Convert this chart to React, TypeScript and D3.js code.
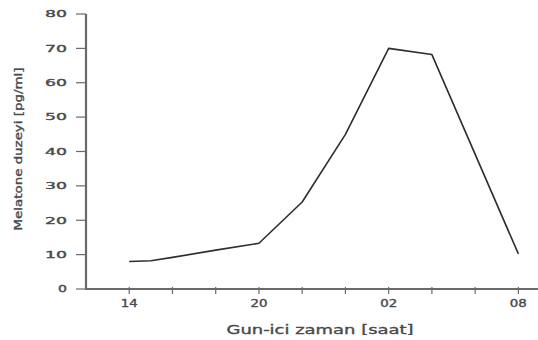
import React from "react";
import * as d3 from "d3";

const hours = [14, 15, 16, 18, 20, 22, 24, 26, 28, 32];
const values = [8, 8.2, 9.2, 11.3, 13.3, 25.3, 45, 70, 68.2, 10.2];
const xTickHours = [14, 16, 18, 20, 22, 24, 26, 28, 30, 32];
const xLabelHours = [14, 20, 26, 32];
const xLabels = ["14", "20", "02", "08"];
const yTicks = [0, 10, 20, 30, 40, 50, 60, 70, 80];
const yTitle = "Melatone duzeyi [pg/ml]";
const xTitle = "Gun-ici zaman [saat]";

export default function App() {
  const W = 538, H = 340;
  const x = d3.scaleLinear().domain([12, 33]).range([86, 540]);
  const y = d3.scaleLinear().domain([0, 80]).range([289, 14]);
  const line = d3.line<number>().x((_, i) => x(hours[i])).y((v) => y(v));
  const font = "'DejaVu Sans', Verdana, sans-serif";
  const textCol = "#4a4a4a";
  const axisCol = "#6a6a6a";
  const textStroke = { stroke: textCol, strokeWidth: 0.35 };
  return (
    <svg width={W} height={H} style={{ position: "absolute", left: 0, top: 0, background: "#fff" }}>
      <rect width={W} height={H} fill="#fff" />
      {/* y axis */}
      <line x1={86} x2={86} y1={y(80)} y2={y(0) + 1} stroke={axisCol} strokeWidth={2.2} />
      {yTicks.map((t) => (
        <g key={t}>
          <line x1={76} x2={86} y1={y(t)} y2={y(t)} stroke={axisCol} strokeWidth={1.2} />
          <text
            x={67}
            y={y(t) + 3.3}
            textAnchor="end"
            fontFamily={font}
            fontSize={9}
            fill={textCol}
            {...textStroke}
            textLength={t === 0 ? 9 : 22}
            lengthAdjust="spacingAndGlyphs"
          >
            {t}
          </text>
        </g>
      ))}
      {/* x axis */}
      <line x1={85} x2={538} y1={y(0)} y2={y(0)} stroke={axisCol} strokeWidth={2.2} />
      {xTickHours.map((h) => (
        <line key={h} x1={x(h)} x2={x(h)} y1={y(0) - 2} y2={y(0) + 5} stroke={axisCol} strokeWidth={1.2} />
      ))}
      {xLabelHours.map((h, i) => (
        <text
          key={h}
          x={x(h)}
          y={307}
          textAnchor="middle"
          fontFamily={font}
          fontSize={10}
          fill={textCol}
          {...textStroke}
          textLength={17}
          lengthAdjust="spacingAndGlyphs"
        >
          {xLabels[i]}
        </text>
      ))}
      {/* data line */}
      <path d={line(values) || ""} fill="none" stroke="#2e2e2e" strokeWidth={1.6} strokeLinejoin="round" />
      {/* titles */}
      <text
        x={320}
        y={334}
        textAnchor="middle"
        fontFamily={font}
        fontSize={12}
        fill={textCol}
        {...textStroke}
        textLength={187}
        lengthAdjust="spacingAndGlyphs"
      >
        {xTitle}
      </text>
      <text
        transform="translate(22,149) rotate(-90)"
        textAnchor="middle"
        fontFamily={font}
        fontSize={10.5}
        fill={textCol}
        {...textStroke}
        textLength={163}
        lengthAdjust="spacingAndGlyphs"
      >
        {yTitle}
      </text>
    </svg>
  );
}
